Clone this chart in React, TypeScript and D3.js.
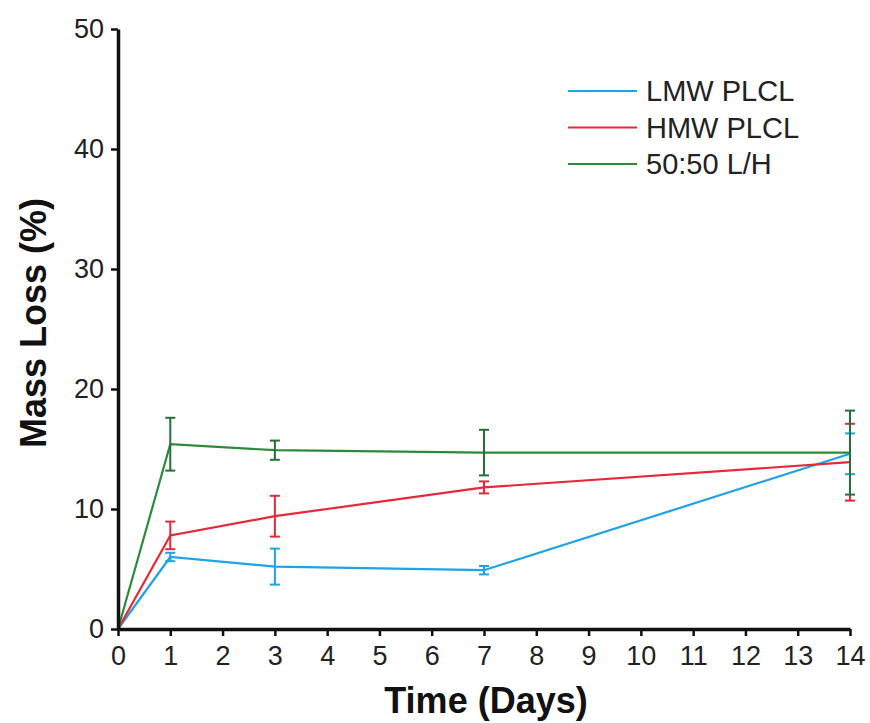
import React, { useEffect, useRef } from 'react';
import * as d3 from 'd3';

const days = [0, 1, 3, 7, 14];
const seriesNames = ['LMW PLCL', 'HMW PLCL', '50:50 L/H'];
const lmwLoss = [0, 6.0, 5.2, 4.9, 14.6];
const lmwErr = [0, 0.35, 1.5, 0.35, 1.7];
const hmwLoss = [0, 7.8, 9.4, 11.8, 13.9];
const hmwErr = [0, 1.15, 1.7, 0.5, 3.2];
const mixLoss = [0, 15.4, 14.9, 14.7, 14.7];
const mixErr = [0, 2.2, 0.8, 1.9, 3.5];
const xTicks = d3.range(0, 15);
const yTicks = [0, 10, 20, 30, 40, 50];

const colors = ['#1ea3e6', '#e8283a', '#2e8a3a'];
const errColors = ['#1ea3e6', '#e02a3a', '#23703a'];

const App = () => {
  const ref = useRef<SVGSVGElement>(null);

  useEffect(() => {
    const width = 870;
    const height = 723;
    const margin = { top: 29, right: 20, bottom: 94, left: 118 };

    const svg = d3.select(ref.current);
    svg.selectAll('*').remove();
    svg.attr('width', width).attr('height', height);

    const x = d3.scaleLinear().domain([0, 14]).range([margin.left, 850]);
    const y = d3.scaleLinear().domain([0, 50]).range([629, margin.top]);

    const font = 'Liberation Sans, Arial, sans-serif';

    // series
    const series = [
      { values: lmwLoss, errs: lmwErr },
      { values: hmwLoss, errs: hmwErr },
      { values: mixLoss, errs: mixErr },
    ];

    const line = d3.line<number>()
      .x((d, i) => x(days[i]))
      .y(d => y(d));

    series.forEach((s, k) => {
      svg.append('path')
        .attr('d', line(s.values))
        .attr('fill', 'none')
        .attr('stroke', colors[k])
        .attr('stroke-width', 2.2);
    });

    series.forEach((s, k) => {
      const g = svg.append('g').attr('stroke', errColors[k]).attr('stroke-width', 2);
      s.values.forEach((v, i) => {
        const e = s.errs[i];
        if (!e) return;
        const cx = x(days[i]);
        const y1 = y(v + e);
        const y2 = y(v - e);
        g.append('line').attr('x1', cx).attr('x2', cx).attr('y1', y1).attr('y2', y2);
        g.append('line').attr('x1', cx - 5).attr('x2', cx + 5).attr('y1', y1).attr('y2', y1);
        g.append('line').attr('x1', cx - 5).attr('x2', cx + 5).attr('y1', y2).attr('y2', y2);
      });
    });

    // axes
    const xAxis = svg.append('g')
      .attr('transform', `translate(0,${y(0)})`)
      .call(d3.axisBottom(x).tickValues(xTicks).tickSize(7).tickSizeOuter(0).tickPadding(10));
    const yAxis = svg.append('g')
      .attr('transform', `translate(${x(0)},0)`)
      .call(d3.axisLeft(y).tickValues(yTicks).tickSize(7).tickSizeOuter(0).tickPadding(7));

    [xAxis, yAxis].forEach(a => {
      a.select('.domain').attr('stroke', '#111').attr('stroke-width', 3.5);
      a.selectAll('.tick line').attr('stroke', '#111').attr('stroke-width', 2.5);
      a.selectAll('.tick text')
        .attr('font-family', font)
        .attr('font-size', 27)
        .attr('fill', '#222');
    });

    // axis titles
    svg.append('text')
      .attr('x', 486)
      .attr('y', 713)
      .attr('text-anchor', 'middle')
      .attr('font-family', font)
      .attr('font-weight', 'bold')
      .attr('font-size', 36)
      .attr('fill', '#111')
      .text('Time (Days)');

    svg.append('text')
      .attr('transform', 'translate(46,323) rotate(-90)')
      .attr('text-anchor', 'middle')
      .attr('font-family', font)
      .attr('font-weight', 'bold')
      .attr('font-size', 36)
      .attr('fill', '#111')
      .text('Mass Loss (%)');

    // legend
    const legend = svg.append('g').attr('transform', 'translate(568,91)');
    seriesNames.forEach((name, k) => {
      const row = legend.append('g').attr('transform', `translate(0,${k * 36.5})`);
      row.append('line')
        .attr('x1', 0).attr('x2', 69)
        .attr('stroke', colors[k]).attr('stroke-width', 2.2);
      row.append('text')
        .attr('x', 78)
        .attr('y', 10)
        .attr('font-family', font)
        .attr('font-size', 29)
        .attr('fill', '#222')
        .text(name);
    });
  }, []);

  return <svg ref={ref} style={{ position: 'absolute', left: 0, top: 0 }}></svg>;
};

export default App;
